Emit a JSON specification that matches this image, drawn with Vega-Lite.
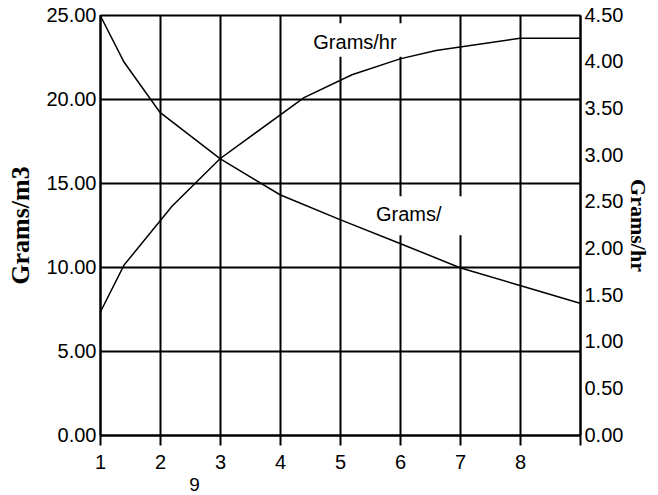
{
  "$schema": "https://vega.github.io/schema/vega-lite/v6.json",
  "width": 480,
  "height": 420,
  "padding": {"left": 7, "top": 5, "right": 0, "bottom": 0},
  "background": "white",
  "config": {
    "view": {"stroke": null},
    "axis": {
      "labelFont": "Liberation Sans",
      "labelFontSize": 20,
      "labelColor": "black",
      "domainColor": "black",
      "domainWidth": 2,
      "gridColor": "black",
      "gridWidth": 2,
      "gridOpacity": 1,
      "tickColor": "black",
      "tickWidth": 2,
      "titleColor": "black"
    }
  },
  "datasets": {
    "m3": [
      {"x": 1, "v": 25},
      {"x": 1.4, "v": 22.2},
      {"x": 2, "v": 19.2},
      {"x": 3, "v": 16.45},
      {"x": 4, "v": 14.3},
      {"x": 5, "v": 12.82},
      {"x": 6, "v": 11.4},
      {"x": 7, "v": 9.96},
      {"x": 8, "v": 8.9},
      {"x": 9, "v": 7.84}
    ],
    "hr": [
      {"x": 1, "v": 1.31},
      {"x": 1.4, "v": 1.82},
      {"x": 2.2, "v": 2.45},
      {"x": 3, "v": 2.96},
      {"x": 4.4, "v": 3.615},
      {"x": 5.2, "v": 3.86},
      {"x": 6, "v": 4.03},
      {"x": 6.6, "v": 4.12},
      {"x": 8, "v": 4.25},
      {"x": 9, "v": 4.25}
    ],
    "boxes": [
      {"x": 4.45, "x2": 6.15, "y": 24.51, "y2": 22.52},
      {"x": 5.48, "x2": 7.25, "y": 14.21, "y2": 11.89}
    ],
    "labels": [
      {"x": 4.555, "y": 23.35, "text": "Grams/hr"},
      {"x": 5.6, "y": 13.1, "text": "Grams/"}
    ]
  },
  "layer": [
    {
      "layer": [
        {
          "data": {"name": "boxes"},
          "mark": {"type": "rect", "fill": "white", "stroke": null},
          "encoding": {
            "x": {
              "field": "x", "type": "quantitative",
              "scale": {"domain": [1, 9], "nice": false, "zero": false},
              "axis": {
                "values": [1, 2, 3, 4, 5, 6, 7, 8, 9],
                "labelExpr": "datum.value == 9 ? '' : datum.label",
                "format": "d",
                "grid": true,
                "ticks": true,
                "tickSize": 10,
                "labelPadding": 7,
                "labelFlush": false,
                "title": "9",
                "titleFont": "Liberation Sans",
                "titleFontSize": 19,
                "titleFontWeight": "normal",
                "titleX": 94,
                "titleY": 49,
                "titleAlign": "center",
                "titleBaseline": "middle"
              }
            },
            "x2": {"field": "x2"},
            "y": {
              "field": "y", "type": "quantitative",
              "scale": {"domain": [0, 25], "nice": false},
              "axis": {
                "values": [0, 5, 10, 15, 20, 25],
                "format": ".2f",
                "grid": true,
                "ticks": false,
                "labelPadding": 4,
                "labelFlush": false,
                "title": "Grams/m3",
                "titleFont": "Liberation Serif",
                "titleFontWeight": "bold",
                "titleFontSize": 26,
                "titlePadding": 12
              }
            },
            "y2": {"field": "y2"}
          }
        },
        {
          "data": {"name": "m3"},
          "mark": {"type": "line", "color": "black", "strokeWidth": 1.5},
          "encoding": {
            "x": {"field": "x", "type": "quantitative"},
            "y": {"field": "v", "type": "quantitative"}
          }
        },
        {
          "data": {"name": "labels"},
          "mark": {"type": "text", "font": "Liberation Sans", "fontSize": 20, "align": "left", "baseline": "middle", "color": "black"},
          "encoding": {
            "x": {"field": "x", "type": "quantitative"},
            "y": {"field": "y", "type": "quantitative"},
            "text": {"field": "text"}
          }
        }
      ]
    },
    {
      "data": {"name": "hr"},
      "mark": {"type": "line", "color": "black", "strokeWidth": 1.5},
      "encoding": {
        "x": {"field": "x", "type": "quantitative"},
        "y": {
          "field": "v", "type": "quantitative",
          "scale": {"domain": [0, 4.5], "nice": false},
          "axis": {
            "orient": "right",
            "values": [0, 0.5, 1, 1.5, 2, 2.5, 3, 3.5, 4, 4.5],
            "format": ".2f",
            "grid": false,
            "ticks": false,
            "labelPadding": 4,
            "labelFlush": false,
            "title": "Grams/hr",
            "titleFont": "Liberation Serif",
            "titleFontWeight": "bold",
            "titleFontSize": 22,
            "titlePadding": 3
          }
        }
      }
    }
  ],
  "resolve": {"scale": {"y": "independent"}}
}
